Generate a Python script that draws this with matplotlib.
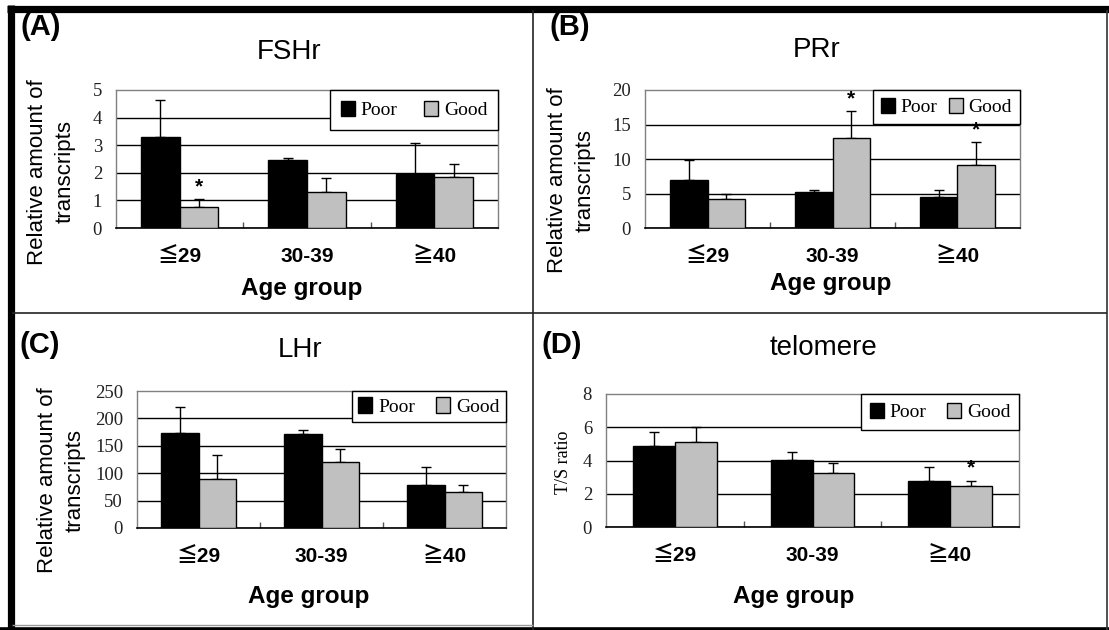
import matplotlib
matplotlib.use("Agg")
import matplotlib.pyplot as plt
from matplotlib.lines import Line2D
import numpy as np

# ---------------- data ----------------
categories = ["≦29", "30-39", "≧40"]
series_names = ["Poor", "Good"]

fshr_poor = [3.31, 2.47, 1.95]
fshr_poor_err = [1.34, 0.08, 1.12]
fshr_good = [0.76, 1.29, 1.86]
fshr_good_err = [0.28, 0.52, 0.47]

prr_poor = [6.9, 5.2, 4.5]
prr_poor_err = [3.0, 0.3, 1.0]
prr_good = [4.2, 13.1, 9.2]
prr_good_err = [0.7, 3.8, 3.25]

lhr_poor = [174, 171, 79]
lhr_poor_err = [46, 7, 32]
lhr_good = [90, 120, 65]
lhr_good_err = [44, 25, 14]

telo_poor = [4.9, 4.04, 2.79]
telo_poor_err = [0.8, 0.48, 0.8]
telo_good = [5.13, 3.26, 2.49]
telo_good_err = [0.88, 0.56, 0.3]

# significance stars: (category index, series index 0=Poor 1=Good)
fshr_stars = [(0, 1)]
prr_stars = [(1, 1), (2, 1)]
lhr_stars = []
telo_stars = [(2, 1)]

titles = ["FSHr", "PRr", "LHr", "telomere"]
letters = ["(A)", "(B)", "(C)", "(D)"]
ylabels = ["Relative amount of\ntranscripts", "Relative amount of\ntranscripts",
           "Relative amount of\ntranscripts", "T/S ratio"]
xlabel = "Age group"
yticks_list = [[0, 1, 2, 3, 4, 5], [0, 5, 10, 15, 20],
               [0, 50, 100, 150, 200, 250], [0, 2, 4, 6, 8]]

# ---------------- figure ----------------
W, H = 1109, 630
fig = plt.figure(figsize=(W / 100, H / 100), dpi=100)
fig.patch.set_facecolor("white")

SANS = ["Liberation Sans", "DejaVu Sans"]
SANS_CJK = ["Liberation Sans", "Noto Sans CJK TC", "DejaVu Sans"]
SERIF = ["Liberation Serif", "DejaVu Serif"]


def px_rect(x0, y0, x1, y1):
    return [x0 / W, 1 - y1 / H, (x1 - x0) / W, (y1 - y0) / H]


def fx(x):
    return x / W


def fy(y):
    return 1 - y / H


panels = [
    dict(rect=(116, 90, 498, 228), poor=fshr_poor, perr=fshr_poor_err, good=fshr_good,
         gerr=fshr_good_err, stars=fshr_stars, ylim=5, title_xy=(289, 52), letter_xy=(41, 27),
         ylab_xy=(51, 172), xlab_xy=(302, 289), ylab_size=16, ylab_serif=False,
         legend_colsp=1.35, legend_pad=0.55),
    dict(rect=(645, 90, 1020, 228), poor=prr_poor, perr=prr_poor_err, good=prr_good,
         gerr=prr_good_err, stars=prr_stars, ylim=20, title_xy=(817, 50), letter_xy=(570, 27),
         ylab_xy=(571, 180), xlab_xy=(831, 284), ylab_size=16, ylab_serif=False,
         legend_colsp=0.6, legend_pad=0.4),
    dict(rect=(137, 391, 506, 528), poor=lhr_poor, perr=lhr_poor_err, good=lhr_good,
         gerr=lhr_good_err, stars=lhr_stars, ylim=250, title_xy=(300, 350), letter_xy=(40, 345),
         ylab_xy=(61, 480), xlab_xy=(309, 596), ylab_size=16, ylab_serif=False,
         legend_colsp=1.1, legend_pad=0.32),
    dict(rect=(606, 394, 1019, 527), poor=telo_poor, perr=telo_poor_err, good=telo_good,
         gerr=telo_good_err, stars=telo_stars, ylim=8, title_xy=(824, 348), letter_xy=(562, 345),
         ylab_xy=(563, 462), xlab_xy=(794, 597), ylab_size=13, ylab_serif=True,
         legend_colsp=1.05, legend_pad=0.45),
]

GOOD_COLOR = "#c0c0c0"
x = np.arange(len(categories))
bw = 1 / 3.3

for i, p in enumerate(panels):
    ax = fig.add_axes(px_rect(*p["rect"]))
    ax.set_xlim(-0.5, len(categories) - 0.5)
    ax.set_ylim(0, p["ylim"])
    ax.set_axisbelow(True)
    ax.set_yticks(yticks_list[i])
    ax.yaxis.grid(True, color="black", linewidth=1.0)
    ax.bar(x - bw / 2, p["poor"], bw, color="black", edgecolor="black",
           linewidth=1.0, label=series_names[0], zorder=3)
    ax.bar(x + bw / 2, p["good"], bw, color=GOOD_COLOR, edgecolor="black",
           linewidth=1.0, label=series_names[1], zorder=3)
    ax.errorbar(x - bw / 2, p["poor"], yerr=[np.zeros(3), p["perr"]], fmt="none",
                ecolor="black", elinewidth=1.0, capsize=3.5, capthick=1.0, zorder=2.5)
    ax.errorbar(x + bw / 2, p["good"], yerr=[np.zeros(3), p["gerr"]], fmt="none",
                ecolor="black", elinewidth=1.0, capsize=3.5, capthick=1.0, zorder=2.5)
    for (ci, si) in p["stars"]:
        vals = p["poor"] if si == 0 else p["good"]
        errs = p["perr"] if si == 0 else p["gerr"]
        xs = x[ci] + (bw / 2 if si == 1 else -bw / 2)
        ax.annotate("*", (xs, vals[ci] + errs[ci]), xytext=(0, 2),
                    textcoords="offset points", ha="center", va="bottom",
                    fontsize=15, fontweight="bold", family=SANS, zorder=8)

    # spines
    for s in ["top", "right", "left"]:
        ax.spines[s].set_color("#808080")
        ax.spines[s].set_linewidth(1.0)
    ax.spines["bottom"].set_color("black")
    ax.spines["bottom"].set_linewidth(1.2)

    # ticks
    ax.tick_params(axis="y", length=0, pad=10, labelsize=13.5)
    for lab in ax.get_yticklabels():
        lab.set_family(SERIF)
        lab.set_color("#222222")
    ax.set_xticks(x)
    ax.set_xticklabels(categories)
    ax.set_xticks([0.5, 1.5], minor=True)
    ax.tick_params(axis="x", which="major", length=0, pad=14, labelsize=15)
    ax.tick_params(axis="x", which="minor", direction="in", length=4, width=1, color="#555555")
    for lab in ax.get_xticklabels():
        lab.set_family(SANS_CJK)
        lab.set_fontweight("bold")

    # legend
    leg = ax.legend(loc="upper right", bbox_to_anchor=(1.0, 1.0), ncol=2, frameon=True,
                    fancybox=False, framealpha=1, edgecolor="black", handlelength=0.72,
                    handleheight=0.85, handletextpad=0.3, columnspacing=p["legend_colsp"],
                    borderpad=p["legend_pad"], borderaxespad=0.0,
                    prop={"family": SERIF, "size": 14})
    leg.get_frame().set_linewidth(1.0)
    leg.set_zorder(6)

    # texts
    tx, ty = p["title_xy"]
    fig.text(fx(tx), fy(ty), titles[i], ha="center", va="center", fontsize=20, family=SANS)
    lx, ly = p["letter_xy"]
    fig.text(fx(lx), fy(ly), letters[i], ha="center", va="center", fontsize=21,
             fontweight="bold", family=SANS)
    ax.set_ylabel(ylabels[i], fontsize=p["ylab_size"], family=SERIF if p["ylab_serif"] else SANS,
                  linespacing=1.4, ha="center", va="center")
    yx, yy = p["ylab_xy"]
    ax.yaxis.set_label_coords(fx(yx), fy(yy), transform=fig.transFigure)
    ax.set_xlabel(xlabel, fontsize=17.5, fontweight="bold", family=SANS)
    xx, xy = p["xlab_xy"]
    ax.xaxis.set_label_coords(fx(xx), fy(xy), transform=fig.transFigure)
    ax.xaxis.label.set_va("center")

    fig.canvas.draw()
    gl = ax.yaxis.get_gridlines()
    if len(gl):
        gl[-1].set_visible(False)

# ---------------- panel frame lines ----------------
def fline(x0, y0, x1, y1, lw, color="black"):
    fig.add_artist(Line2D([fx(x0), fx(x1)], [fy(y0), fy(y1)], color=color, linewidth=lw,
                          solid_capstyle="butt", transform=fig.transFigure))

fline(7, 8.5, 1109, 8.5, 5.2)          # top thick
fline(10.5, 5, 10.5, 630, 5.2)          # left thick
fline(0, 628.5, 1109, 628.5, 2.6)      # bottom thick
fline(1107, 10, 1107, 630, 1.2, "#333333")  # right thin
fline(533, 10, 533, 630, 1.2, "#222222")    # middle vertical
fline(12, 313, 1107, 313, 1.2, "#222222")   # middle horizontal
fline(12, 625, 533, 625, 1.0, "#999999")    # faint bottom of panel C

fig.savefig("out.png", dpi=100, facecolor="white")
